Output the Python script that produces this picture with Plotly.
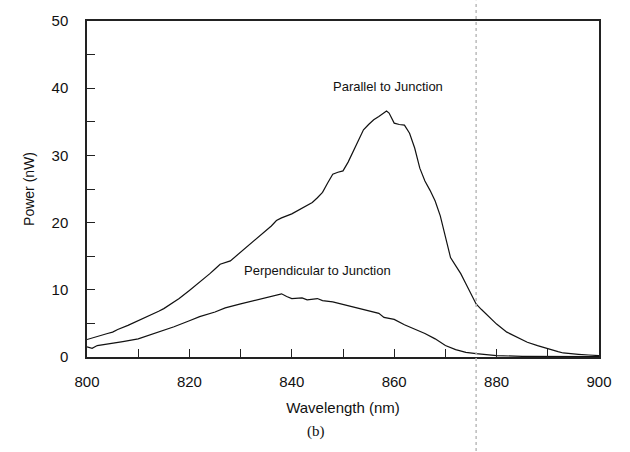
import plotly.graph_objects as go

# Wavelength (nm) and power (nW) readings
wl_par = [800, 802, 804, 805, 806, 808, 810, 812, 814, 815, 816, 818, 820, 822, 824, 825, 826, 828,
          830, 832, 834, 835, 836, 837, 838, 840, 842, 844, 845, 846, 847, 848, 849, 850, 851, 852,
          853, 854, 855, 856, 857, 858, 858.5, 859, 860, 861, 862, 863, 864, 865, 866, 867, 868,
          869, 870, 871, 872, 873, 874, 875, 876, 877, 878, 879, 880, 882, 884, 885, 886, 888,
          890, 892, 893, 894, 896, 898, 900]
p_par = [2.6, 3.1, 3.5, 3.7, 4.1, 4.7, 5.4, 6.0, 6.8, 7.2, 7.7, 8.7, 9.9, 11.1, 12.4, 13.1, 13.8, 14.3,
         15.6, 16.9, 18.2, 18.8, 19.5, 20.3, 20.7, 21.3, 22.2, 23.0, 23.7, 24.5, 25.9, 27.2, 27.5, 27.7, 29.0, 30.6,
         32.3, 33.8, 34.6, 35.3, 35.8, 36.3, 36.6, 36.3, 34.8, 34.6, 34.5, 33.3, 31.1, 28.1, 26.2, 24.8, 23.2,
         21.0, 17.8, 14.8, 13.6, 12.4, 10.9, 9.3, 7.9, 7.1, 6.4, 5.6, 4.9, 3.7, 2.9, 2.5, 2.2, 1.7,
         1.2, 0.8, 0.6, 0.5, 0.4, 0.3, 0.2]

wl_perp = [800, 801, 802, 803, 805, 807, 810, 812, 815, 817, 820, 822, 825, 827, 830, 832, 835, 837,
           838, 839, 840, 842, 843, 845, 846, 848, 850, 852, 853, 855, 857, 858, 860, 862, 864, 866,
           868, 870, 872, 874, 876, 878, 880, 885, 890, 895, 900]
p_perp = [1.5, 1.3, 1.7, 1.8, 2.1, 2.3, 2.7, 3.2, 4.0, 4.5, 5.4, 6.0, 6.7, 7.3, 7.9, 8.3, 8.9, 9.2,
          9.4, 9.0, 8.7, 8.8, 8.5, 8.7, 8.4, 8.2, 7.8, 7.5, 7.3, 6.9, 6.5, 5.9, 5.6, 4.8, 4.2, 3.5,
          2.7, 1.7, 1.1, 0.7, 0.5, 0.3, 0.2, 0.1, 0.05, 0.05, 0.05]

fig = go.Figure()
fig.add_trace(go.Scatter(x=wl_par, y=p_par, mode="lines",
                         line=dict(color="#111111", width=1.2), showlegend=False))
fig.add_trace(go.Scatter(x=wl_perp, y=p_perp, mode="lines",
                         line=dict(color="#111111", width=1.2), showlegend=False))

axis_common = dict(showgrid=False, zeroline=False, showline=True, linecolor="#222222",
                   linewidth=1.5, mirror=True, ticks="inside", ticklen=8, tickwidth=1.2,
                   tickcolor="#222222",
                   tickfont=dict(family="Liberation Sans, Arial, sans-serif", size=15, color="#111111"))

fig.update_xaxes(range=[800, 900], dtick=20, tick0=800, ticklabelstandoff=10,
                 minor=dict(dtick=10, ticks="inside", ticklen=8, tickcolor="#222222", tickwidth=1.2),
                 title=dict(text="Wavelength (nm)", standoff=14,
                            font=dict(family="Liberation Sans, Arial, sans-serif", size=15, color="#111111")),
                 **axis_common)
fig.update_yaxes(range=[0, 50], dtick=10, tick0=0, ticklabelstandoff=14,
                 minor=dict(dtick=5, ticks="inside", ticklen=8, tickcolor="#222222", tickwidth=1.2),
                 title=dict(text="Power (nW)", standoff=14,
                            font=dict(family="Liberation Sans, Arial, sans-serif", size=14, color="#111111")),
                 **axis_common)

ann_font = dict(family="Liberation Sans, Arial, sans-serif", size=13, color="#111111")
fig.add_annotation(x=858.8, y=40.3, text="Parallel to Junction", showarrow=False, font=ann_font)
fig.add_annotation(x=845, y=12.8, text="Perpendicular to Junction", showarrow=False, font=ann_font)
fig.add_annotation(x=0.447, y=-0.222, xref="paper", yref="paper", text="(b)", showarrow=False,
                   yanchor="middle",
                   font=dict(family="Liberation Serif, Times New Roman, serif", size=15, color="#111111"))

# faint scan line
fig.add_shape(type="line", xref="paper", yref="paper", x0=0.76, x1=0.76, y0=-0.28, y1=1.06,
              line=dict(color="#bbbbbb", width=1.5, dash="dot"))

fig.update_layout(width=630, height=452, margin=dict(l=87, r=31, t=19, b=95),
                  plot_bgcolor="white", paper_bgcolor="white")

fig.write_html("out.html")
